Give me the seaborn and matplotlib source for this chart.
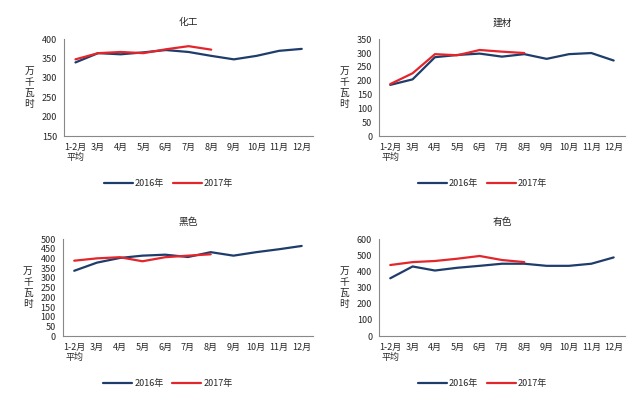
import pandas as pd
import numpy as np
import matplotlib
matplotlib.use("Agg")
import matplotlib.pyplot as plt
import seaborn as sns

sns.set_style("white")
plt.rcParams["font.family"] = ["Noto Sans CJK SC", "DejaVu Sans"]

# ─────────────────────────────────────────
# DATA
# ─────────────────────────────────────────
months = ["1-2月\n平均", "3月", "4月", "5月", "6月", "7月", "8月", "9月", "10月", "11月", "12月"]

chem_2016 = [340, 364, 361, 366, 372, 367, 357, 348, 357, 370, 375]
chem_2017 = [348, 364, 367, 364, 374, 382, 373]

build_2016 = [185, 205, 285, 293, 298, 287, 296, 279, 296, 300, 273]
build_2017 = [188, 227, 296, 292, 311, 305, 300]

ferrous_2016 = [337, 379, 403, 415, 420, 408, 433, 415, 433, 448, 465]
ferrous_2017 = [389, 401, 407, 386, 407, 415, 422]

nonferrous_2016 = [358, 431, 406, 423, 435, 448, 448, 435, 435, 448, 487]
nonferrous_2017 = [440, 458, 465, 479, 496, 471, 458]

panels = [
    ("化工", chem_2016, chem_2017, (150, 400), 50),
    ("建材", build_2016, build_2017, (0, 350), 50),
    ("黑色", ferrous_2016, ferrous_2017, (0, 500), 50),
    ("有色", nonferrous_2016, nonferrous_2017, (0, 600), 100),
]

palette = {"2016年": "#1F3D6B", "2017年": "#E3262B"}

fig = plt.figure(figsize=(6.35, 4.04), dpi=100)
positions = [
    [0.101, 0.663, 0.392, 0.240],
    [0.597, 0.663, 0.387, 0.240],
    [0.099, 0.168, 0.394, 0.240],
    [0.597, 0.168, 0.387, 0.240],
]

for pos, (title, s16, s17, ylim, step) in zip(positions, panels):
    ax = fig.add_axes(pos)
    df = pd.concat([
        pd.DataFrame({"x": range(len(s16)), "value": s16, "year": "2016年"}),
        pd.DataFrame({"x": range(len(s17)), "value": s17, "year": "2017年"}),
    ])
    sns.lineplot(data=df, x="x", y="value", hue="year", palette=palette,
                 linewidth=1.6, ax=ax, legend=True)

    ax.set_xlim(-0.5, len(months) - 0.5)
    ax.set_ylim(*ylim)
    ax.set_yticks(np.arange(ylim[0], ylim[1] + 1, step))
    ax.set_xticks(range(len(months)))
    ax.set_xticklabels(months, fontsize=6.5)
    ax.set_xticks(np.arange(-0.5, len(months), 1), minor=True)
    ax.tick_params(axis="x", which="major", length=0, pad=5)
    ax.tick_params(axis="x", which="minor", length=3, width=0.6, color="#888888", direction="out")
    ax.tick_params(axis="y", labelsize=6.5, length=3, width=0.6, color="#888888", direction="out", pad=2)
    for lbl in ax.get_xticklabels():
        lbl.set_linespacing(1.1)
    ax.set_xlabel("")
    ax.set_ylabel("万\n千\n瓦\n时", rotation=0, fontsize=7, labelpad=9, va="center", linespacing=1.15)
    ax.set_title(title, fontsize=7, pad=10)

    for side in ["top", "right"]:
        ax.spines[side].set_visible(False)
    for side in ["left", "bottom"]:
        ax.spines[side].set_color("#888888")
        ax.spines[side].set_linewidth(0.8)

    ax.legend(loc="upper center", bbox_to_anchor=(0.42, -0.36), ncol=2, frameon=False,
              fontsize=6.5, handlelength=3.2, columnspacing=1.0, handletextpad=0.2)

fig.savefig("out.png", dpi=100)
